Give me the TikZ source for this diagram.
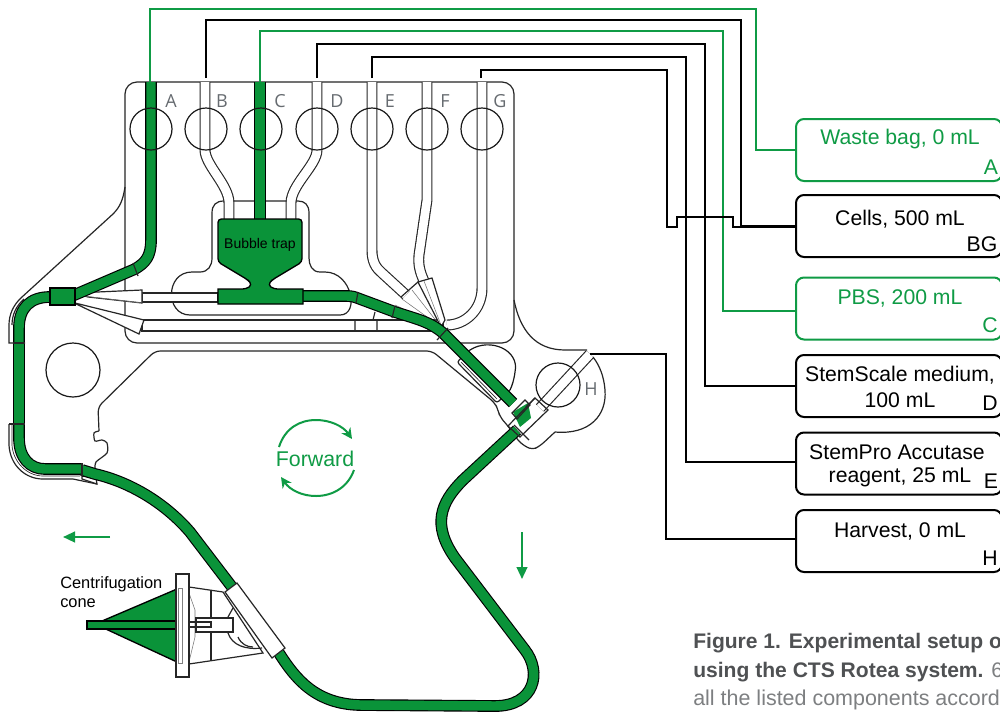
\documentclass[tikz,border=0pt]{standalone}
\usepackage{fontspec}
\setmainfont{Liberation Sans}
\newfontfamily\portfont{Open Sans}
\usetikzlibrary{arrows.meta}
\definecolor{tg}{HTML}{0A9339}
\definecolor{lg}{HTML}{0F9B45}
\definecolor{portgray}{HTML}{666B70}
\definecolor{capdark}{HTML}{4F5153}
\definecolor{caplight}{HTML}{7D7F81}
\tikzset{
 wall/.style={draw=black!85,line width=.9pt},
 tubeg/.style={draw=black,line width=.85pt,double=tg,double distance=7.1pt},
 tubew/.style={draw=black!85,line width=.85pt,double=white,double distance=6.5pt},
 bagblack/.style={draw=black,line width=1.5pt,rounded corners=6pt,minimum width=154.5pt,minimum height=46.5pt,inner sep=0pt},
 baggreen/.style={bagblack,draw=lg},
 linkb/.style={draw=black,line width=1.5pt},
 linkg/.style={draw=lg,line width=1.5pt},
 lab/.style={font=\fontsize{15.9pt}{18pt}\selectfont,text=black,inner sep=0pt},
 labg/.style={lab,text=lg},
 port/.style={font=\portfont\fontsize{13.5pt}{15pt}\selectfont,text=portgray,inner sep=0pt},
 well/.style={draw=black!90,line width=.9pt},
 captext/.style={anchor=base west,inner sep=0pt,font=\fontsize{16.1pt}{18pt}\selectfont},
 thinl/.style={draw=black!55,line width=.4pt},
 bigarrow/.style={draw=lg,line width=1.6pt,-{Triangle[length=9pt,width=8pt]}},
 rotarrow/.style={draw=lg,line width=1.5pt,-{Stealth[length=8pt,width=8pt]}}
}
\begin{document}
\begin{tikzpicture}[x=0.75pt,y=-0.75pt]
\useasboundingbox (0,0) rectangle (1000,715);
\clip (0,0) rectangle (1000,715);
\fill[white] (0,0) rectangle (1000,715);

% cartridge outlines
\draw[wall,rounded corners=9pt] (125,82) -- (514,82) -- (514,343) -- (125,343) -- cycle;
\draw[wall] (125,187) .. controls (123,200) and (120,207) .. (113,214) -- (22,297) .. controls (13,305) and (9,315) .. (9,325) -- (9,343) -- (25,343);
\draw[wall] (12,325) .. controls (12,315) and (16,306) .. (24,299);
\draw[wall] (9,424) -- (25,424);
\draw[wall] (9,424) -- (9,445) .. controls (10,465) and (25,479) .. (43,479) -- (73,479) -- (97,484);
\draw[wall,line width=.5pt] (12,424) -- (12,445) .. controls (13,462) and (27,476) .. (43,476) -- (80,476);
\draw[wall,fill=white] (82,476) -- (96,478) -- (97,484) -- (82,479) -- cycle;
\draw[wall] plot[smooth,tension=.45] coordinates {(95,470) (96,462) (107,453) (107,443) (102,440) (95,441) (94,433) (99,431)} ;
\draw[wall,rounded corners=4pt] (99,431) -- (98,407) -- (155,351) -- (432,351) -- (495,403) -- (498,410) -- (500,417) -- (508,426) -- (520,443) -- (532,450) -- (540,446) -- (555,432);
\draw[wall] (555,432) .. controls (590,435) and (607,415) .. (605,390) .. controls (604,377) and (600,366) .. (593,357);
\draw[wall] (514,300) .. controls (520,330) and (535,350) .. (565,350) -- (587,350);

% bubble trap housing
\draw[wall] (190,315) -- (340,315) .. controls (360,315) and (352,272) .. (325,272) -- (320,272) .. controls (312,272) and (309,265) .. (309,258) -- (309,213) .. controls (309,205) and (305,201) .. (298,201) -- (224,201) .. controls (216,201) and (212,205) .. (212,213) -- (212,258) .. controls (212,266) and (208,272) .. (200,272) -- (192,272) .. controls (165,272) and (165,315) .. (190,315);

% lower rails (white tubing)
\draw[wall,fill=white] (142,320) -- (443,320) -- (443,331) -- (142,331) -- cycle;
\draw[wall] (355,320) -- (355,331) (377,320) -- (377,331) (373,320) -- (375,312);
\draw[wall,fill=white] (142,293) rectangle (218,302);
\draw[wall,fill=white] (142,290) -- (142,303) -- (88,297) -- (75,293) -- cycle;
\draw[thinl] (75,295) -- (142,303);
\draw[wall,fill=white] (75,303) -- (144,320) -- (139,334) -- (72,302) -- cycle;

% tubes with white bore
\draw[tubew] (205,82) -- (205,150) .. controls (205,165) and (229,185) .. (229,203) -- (229,219);
\draw[tubew] (317,82) -- (317,150) .. controls (317,165) and (291,185) .. (291,203) -- (291,219);
\draw[tubew] (372,82) -- (372,250) .. controls (372,262) and (376,268) .. (382,273) -- (406,295);
\draw[tubew] (427,82) -- (427,200) -- (419,255) .. controls (418,265) and (420,272) .. (424,281);
\draw[tubew] (482,82) -- (482,288) .. controls (482,310) and (465,325) .. (447,325);
\draw[wall,fill=white] (418,282) -- (432,278) -- (445,320) -- (441,327) -- cycle;
\draw[thinl] (424,281) -- (441,325) (402,299) -- (441,327) (412,290) -- (441,327) (395,305) -- (441,327);
\draw[wall] (401,297) -- (410,289);
\draw[wall] (410,289) -- (418,282);

% pocket and H port
\draw[well] (470,350) .. controls (490,337) and (520,350) .. (515,372) .. controls (514,380) and (512,386) .. (510,390);
\draw[wall,rounded corners=2pt] (470,350) -- (457,362) -- (497,403) -- (510,390);
\draw[wall,line width=.5pt] (461,362) -- (497,399);
\draw[tubew] (540,408) -- (590,354);

% green tubes
\draw[tubeg] (151,82) -- (151,240) .. controls (151,257) and (145,263) .. (135,269) -- (72,296);
\draw[tubeg] (260,82) -- (260,219);
\draw[tubeg] (303,296) -- (347,296) .. controls (352,296) and (355,297) .. (360,299) -- (395,312) .. controls (420,320) and (430,322) .. (443,333) -- (513,403);
\draw[tubeg] (50,297) .. controls (30,297) and (19,308) .. (19,328) -- (19,343);
\draw[tubeg] (19,343) -- (19,424);
\draw[tubeg] (19,424) -- (19,438) .. controls (19,458) and (30,469) .. (45,469) -- (82,469);
\draw[tubeg] (82,470) -- (95,474) .. controls (130,482) and (165,503) .. (190,532) -- (232,587);
\draw[tubeg] (279,653) .. controls (295,678) and (315,704) .. (360,705) -- (495,706) .. controls (535,706) and (542,672) .. (525,650) -- (455,558) .. controls (432,525) and (440,503) .. (463,480) -- (517,430);

\draw[wall] (133,263) -- (138,276);
\draw[wall] (358,292) -- (356,303);
\draw[wall] (395,306) -- (392,318);
\draw[wall] (448,328) -- (437,340);
\draw[wall] (19,343) ++(-6,0) -- ++(12,0);
\draw[wall] (19,424) ++(-6,0) -- ++(12,0);
\draw[wall] (82,463) -- (82,476);

% bubble trap
\draw[draw=black,line width=1pt,fill=tg,rounded corners=2.5pt] (218,219) -- (302,219) -- (302,262) -- (272,280) -- (268,285) -- (274,289) [sharp corners] -- (303,289) -- (303,304) -- (218,304) -- (218,289) [rounded corners=2.5pt] -- (246,289) -- (252,285) -- (248,280) -- (218,262) -- cycle;
\draw[draw=black,line width=1pt,fill=tg] (50,288) rectangle (75,305);

% junction
\fill[tg] (513,412) -- (528,403) -- (531,418) -- (520,427) -- cycle;
\draw[wall] (508,426) -- (535,398) -- (548,410) -- (520,437) -- cycle;
\draw[wall] (512,413) -- (525,400) -- (530,405) -- (517,419) -- cycle;
\draw[wall] (526,407) -- (535,398);
\draw[wall] (514,425) -- (529,440);

% wells
\foreach \n/\cx in {a/151,b/206,c/261,d/317,e/372,f/427,g/482}{
 \node[well,circle,minimum size=31.5pt,inner sep=0pt] (well\n) at (\cx,129) {};
}
\node[well,circle,minimum size=40.5pt,inner sep=0pt] (wellx) at (73,370) {};
\node[well,circle,minimum size=33pt,inner sep=0pt] (wellh) at (558,385) {};

% port letters
\node[port] (pla) at (171,101) {A};
\node[port] (plb) at (222,101) {B};
\node[port] (plc) at (280,101) {C};
\node[port] (pld) at (337,101) {D};
\node[port] (ple) at (390,101) {E};
\node[port] (plf) at (445,101) {F};
\node[port] (plg) at (500,101) {G};
\node[port] (plh) at (591,389) {H};
\node[font=\fontsize{10.5pt}{12pt}\selectfont,inner sep=0pt] (trap) at (260,245) {Bubble trap};

% centrifugation cone
\draw[wall,fill=white] (189,587) -- (223,592) -- (263,653) -- (189,664) -- cycle;
\draw[wall] (211,590) -- (211,660);
\draw[wall] (228,617) -- (233,608);
\draw[wall] (228,633) .. controls (232,645) and (245,650) .. (262,648);
\draw[wall] (238,637) .. controls (241,644) and (247,647) .. (253,647);
\draw[thinl] (189,593) -- (195,610) -- (195,637) -- (189,662);
\draw[wall,fill=white] (196,618) rectangle (233,632);
\draw[wall] (189,622) rectangle (211,627);
\draw[draw=black,line width=1pt,fill=tg] (95,624) -- (177,589) -- (177,662) -- cycle;
\draw[draw=black,line width=1pt,fill=tg] (87,621) rectangle (177,629);
\draw[wall,fill=white] (176,574) rectangle (189,677);
\draw[draw=black!50,line width=.6pt] (178,588) rectangle (182,663);
\draw[wall,fill=white] (237,583) -- (225,592) -- (272,658) -- (285,648) -- cycle;
\node[anchor=base west,inner sep=0pt,font=\fontsize{12.3pt}{14pt}\selectfont] (conea) at (60,588) {Centrifugation};
\node[anchor=base west,inner sep=0pt,font=\fontsize{12.3pt}{14pt}\selectfont] (coneb) at (60,607) {cone};

% flow arrows
\node[labg,font=\fontsize{16pt}{18pt}\selectfont] (fwd) at (315,459) {Forward};
\coordinate (r1s) at (279,447); \coordinate (r1e) at (352,439);
\coordinate (r2s) at (354,470); \coordinate (r2e) at (281,477);
\draw[rotarrow] (r1s) .. controls (285,428) and (300,420) .. (316,420) .. controls (330,420) and (343,426) .. (r1e);
\draw[rotarrow] (r2s) .. controls (348,487) and (333,496) .. (316,496) .. controls (302,496) and (290,490) .. (r2e);
\coordinate (la1) at (110,537); \coordinate (la2) at (63,537);
\coordinate (da1) at (522,532); \coordinate (da2) at (522,579);
\draw[bigarrow] (la1) -- (la2);
\draw[bigarrow] (da1) -- (da2);

% bags
\node[baggreen] (waste) at (899,150) {};
\node[bagblack] (cells) at (899,226) {};
\node[baggreen] (pbs) at (899,308.5) {};
\node[bagblack] (scale) at (899,386) {};
\node[bagblack] (accu) at (899,463.5) {};
\node[bagblack] (harv) at (899,541) {};

\node[labg] (t1) at (900,139.5) {Waste bag, 0 mL};
\node[labg] (t1b) at (991,167) {A};
\node[lab] (t2) at (900,219.5) {Cells, 500 mL};
\node[lab] (t2b) at (982,244) {BG};
\node[labg] (t3) at (900,298.5) {PBS, 200 mL};
\node[labg] (t3b) at (990,325) {C};
\node[lab] (t4) at (900,375) {StemScale medium,};
\node[lab] (t4a) at (900,400) {100 mL};
\node[lab] (t4b) at (990,403) {D};
\node[lab] (t5) at (897,452) {StemPro Accutase};
\node[lab] (t5a) at (900,477) {reagent, 25 mL};
\node[lab] (t5b) at (991,481) {E};
\node[lab] (t6) at (900,531.5) {Harvest, 0 mL};
\node[lab] (t6b) at (990,558) {H};

% connectors
\coordinate (pa) at (150,82); \coordinate (pb) at (206,78); \coordinate (pc) at (260,82);
\coordinate (pd) at (317,78); \coordinate (pe) at (372,78); \coordinate (pg) at (481,78);
\coordinate (ph) at (590,354);
\draw[linkg] (pa) -- (150,9) -- (756,9) -- (756,150) -- (waste.west);
\draw[linkb] (pb) -- (206,20) -- (741,20) -- (741,226) -- (cells.west);
\draw[linkg] (pc) -- (260,31) -- (723,31) -- (723,311) -- (pbs.west |- 0,311);
\draw[linkb] (pd) -- (317,44) -- (705,44) -- (705,386) -- (scale.west);
\draw[linkb] (pe) -- (372,57) -- (686,57) -- (686,462) -- (accu.west |- 0,462);
\draw[linkb] (pg) -- (481,70) -- (667,70) -- (667,227) -- (677,227) -- (677,217) -- (733,217) -- (733,227) -- (cells.west |- 0,227);
\draw[linkb] (ph) -- (666,354) -- (666,539) -- (harv.west |- 0,539);

% caption
\node[captext,text=capdark,font=\bfseries\fontsize{15.8pt}{18pt}\selectfont] (c1) at (693,648) {Figure 1. Experimental setup o};
\node[captext,text=capdark,font=\bfseries\fontsize{15.8pt}{18pt}\selectfont] (c2) at (693,677) {using the CTS Rotea system. \mdseries\color{caplight}6};
\node[captext,text=caplight] (c3) at (693,705) {all the listed components accord};
\end{tikzpicture}
\end{document}
